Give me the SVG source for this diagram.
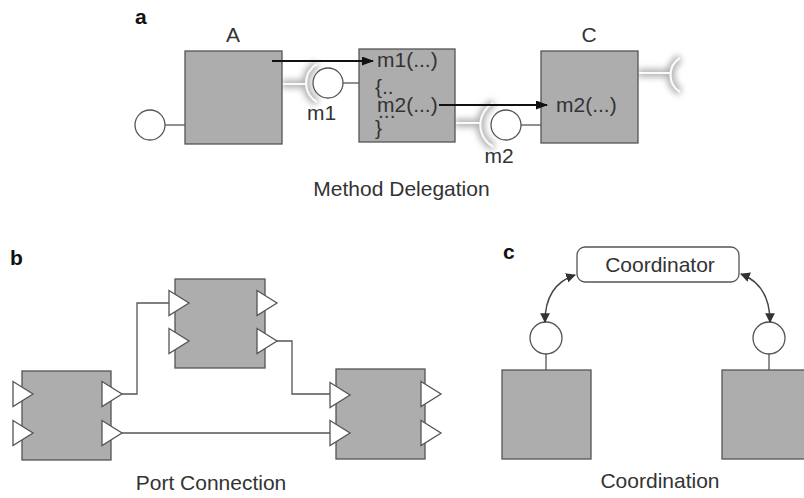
<svg xmlns="http://www.w3.org/2000/svg" width="804" height="498" viewBox="0 0 804 498">
<defs>
<style>
text{font-family:"Liberation Sans",Arial,sans-serif;fill:#333;font-size:21px}
.lab{font-weight:bold;fill:#111}
.box{fill:#adadad;stroke:#555;stroke-width:1.3}
.port{fill:#fff;stroke:#555;stroke-width:1.3}
.ln{fill:none;stroke:#555;stroke-width:1.3}
.arr{fill:none;stroke:#111;stroke-width:2}
.carr{fill:none;stroke:#444;stroke-width:1.4}
.gl1{fill:none;stroke:#b0b0b0;stroke-width:8;filter:url(#blur)}
.gl2{fill:none;stroke:#fafafa;stroke-width:2.2;filter:url(#blur2)}
</style>
<filter id="blur" x="-50%" y="-50%" width="200%" height="200%"><feGaussianBlur stdDeviation="3.2"/></filter>
<filter id="blur2" x="-50%" y="-50%" width="200%" height="200%"><feGaussianBlur stdDeviation="0.7"/></filter>
<marker id="ah" viewBox="0 0 12 9" refX="11" refY="4.5" markerWidth="6" markerHeight="4.5" markerUnits="strokeWidth" orient="auto"><path d="M0,0 L12,4.5 L0,9 z" fill="#111"/></marker>
<marker id="ch" viewBox="0 0 10 10" refX="9" refY="5" markerWidth="7" markerHeight="7" markerUnits="strokeWidth" orient="auto-start-reverse"><path d="M0,0 L10,5 L0,10 z" fill="#333"/></marker>
<polygon id="tri" points="0,-12.5 20,0 0,12.5" class="port"/>
</defs>

<!-- Panel a -->
<text class="lab" x="135" y="24">a</text>
<g id="glows">
<path class="gl1" d="M282,84 H306 M317,64 A22,22 0 0 0 317,102"/>
<path class="gl2" d="M282,84 H306 M317,64 A22,22 0 0 0 317,102"/>
<path class="gl1" d="M455,123 H481 M493.5,103 A25,25 0 0 0 493.5,147"/>
<path class="gl2" d="M455,123 H481 M493.5,103 A25,25 0 0 0 493.5,147"/>
<path class="gl1" d="M638,73 H670 M680,58 A20,20 0 0 0 680,92"/>
<path class="gl2" d="M638,73 H670 M680,58 A20,20 0 0 0 680,92"/>
</g>
<g id="nodeA">
<text x="233" y="42" text-anchor="middle">A</text>
<line class="ln" x1="165" y1="125" x2="185" y2="125"/>
<circle class="port" cx="150" cy="125" r="15"/>
<rect class="box" x="185" y="51" width="97" height="93"/>
</g>
<g id="nodeB">
<line class="ln" x1="343" y1="83" x2="359" y2="83"/>
<circle class="port" cx="328" cy="83" r="15"/>
<text x="321.5" y="120" text-anchor="middle" font-size="20">m1</text>
<rect class="box" x="359" y="49" width="96" height="93"/>
<text x="377" y="67">m1(...)</text>
<text x="375" y="94">{..</text>
<text x="377" y="112">m2(...)</text>
<text x="378" y="118">...</text>
<text x="375" y="135">}</text>
</g>
<g id="nodeC">
<text x="589" y="42" text-anchor="middle">C</text>
<line class="ln" x1="521" y1="125" x2="541" y2="125"/>
<circle class="port" cx="506" cy="125" r="15"/>
<text x="499" y="163" text-anchor="middle" font-size="20">m2</text>
<rect class="box" x="541" y="51" width="97" height="92"/>
<text x="556" y="112">m2(...)</text>
</g>
<g id="connectors-a">
<path class="arr" d="M272,61 H373" marker-end="url(#ah)"/>
<path class="arr" d="M439,105 H547" marker-end="url(#ah)"/>
</g>
<text x="401.5" y="196" text-anchor="middle">Method Delegation</text>

<!-- Panel b -->
<text class="lab" x="10" y="265">b</text>
<g id="connectors-b">
<path class="ln" d="M122,394 H137 V303 H169"/>
<path class="ln" d="M277,341 H292 V394 H330"/>
<path class="ln" d="M122,433 H330"/>
</g>
<g id="b1">
<rect class="box" x="175" y="279" width="90" height="89"/>
<use href="#tri" x="169" y="303"/>
<use href="#tri" x="169" y="341"/>
<use href="#tri" x="257" y="303"/>
<use href="#tri" x="257" y="341"/>
</g>
<g id="b0">
<rect class="box" x="22" y="371" width="89" height="89"/>
<use href="#tri" x="13" y="394"/>
<use href="#tri" x="13" y="433"/>
<use href="#tri" x="102" y="394"/>
<use href="#tri" x="102" y="433"/>
</g>
<g id="b2">
<rect class="box" x="336" y="369" width="89" height="90"/>
<use href="#tri" x="330" y="395"/>
<use href="#tri" x="330" y="433"/>
<use href="#tri" x="421" y="394"/>
<use href="#tri" x="421" y="433"/>
</g>
<text x="211" y="490" text-anchor="middle">Port Connection</text>

<!-- Panel c -->
<text class="lab" x="503" y="259">c</text>
<g id="coordinator">
<rect x="577" y="247" width="162" height="35" rx="8" fill="#fff" stroke="#555" stroke-width="1.3"/>
<text x="660" y="272" text-anchor="middle">Coordinator</text>
</g>
<g id="c1">
<line class="ln" x1="546" y1="354" x2="546" y2="370"/>
<circle class="port" cx="546" cy="338" r="16"/>
<rect class="box" x="502" y="370" width="89" height="89"/>
</g>
<g id="c2">
<line class="ln" x1="769" y1="354" x2="769" y2="370"/>
<circle class="port" cx="769" cy="338" r="16"/>
<rect class="box" x="722" y="370" width="90" height="89"/>
</g>
<g id="connectors-c">
<path class="carr" d="M575,275 Q545,285 545,322" marker-start="url(#ch)" marker-end="url(#ch)"/>
<path class="carr" d="M741,274 Q770,285 770,322" marker-start="url(#ch)" marker-end="url(#ch)"/>
</g>
<text x="660" y="488" text-anchor="middle">Coordination</text>
</svg>
